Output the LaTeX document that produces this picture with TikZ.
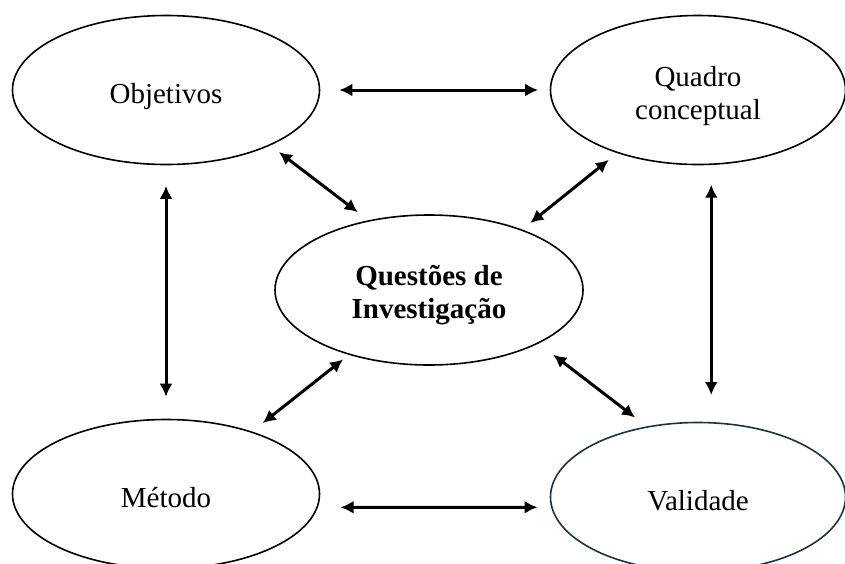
\documentclass[tikz,border=0pt]{standalone}
\usepackage{fontspec}
\setmainfont{Liberation Serif}
\usetikzlibrary{shapes.geometric,arrows.meta}
\definecolor{valline}{RGB}{25,50,70}
\begin{document}
\begin{tikzpicture}[x=1pt, y=-1pt, >={Latex[length=13pt,width=13pt]},
  box/.style={ellipse, draw, line width=1.6pt, inner sep=0pt, minimum width=307pt, minimum height=149pt, align=center, font=\fontsize{29}{33}\selectfont},
  oneline/.style={text height=32pt, text depth=6pt},
  link/.style={<->, line width=3pt}]
\useasboundingbox (0,0) rectangle (845,563);
\clip (0,0) rectangle (845,563);

\node[box, oneline] (obj) at (166,90) {Objetivos};
\node[box, minimum width=295pt] (quad) at (698,90) {\rule{0pt}{32pt}Quadro\\conceptual};
\node[box, minimum width=308pt, minimum height=150pt, font=\fontsize{29}{33}\selectfont\bfseries] (qi) at (429,290) {\rule{0pt}{30pt}Questões de\\Investigação};
\node[box, oneline] (met) at (166,494) {Método};
\node[box, oneline, minimum width=295pt, draw=valline] (val) at (698,497) {Validade};

\foreach \a/\b/\s/\e in {obj.east/quad.west/19/11.5, met.-5.3/val.184.3/22.7/13.6,
    obj.south/met.north/20.5/22, quad.-80.8/val.80.9/19.7/27}
{
    \draw[link, shorten <=\s pt, shorten >=\e pt] (\a) -- (\b);
}

\foreach \a/\b/\s/\e in {obj.-28.5/qi.131.2/10.75/13.3, qi.33.7/quad.218.6/10.4/10.75,
    qi.219.6/met.36.7/7.3/13.6, qi.-26.65/val.126.5/18.4/14.6}
{
    \draw[link, shorten <=\s pt, shorten >=\e pt] (\a) -- (\b);
}
\end{tikzpicture}
\end{document}
